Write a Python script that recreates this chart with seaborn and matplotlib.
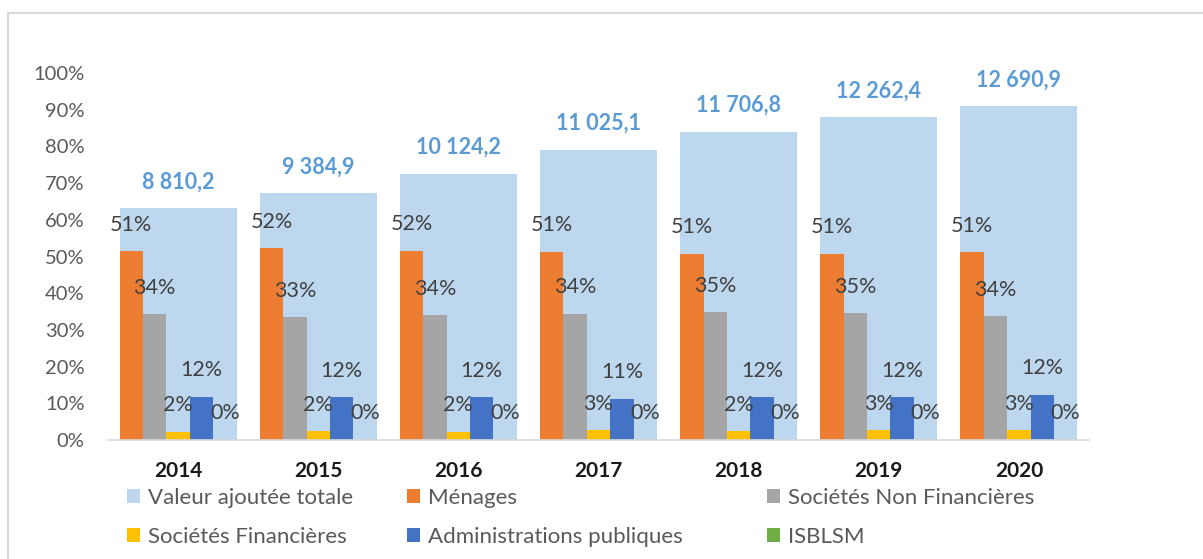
import matplotlib
matplotlib.use("Agg")
import matplotlib.pyplot as plt
from matplotlib.lines import Line2D
from matplotlib.patches import Patch
from matplotlib.ticker import PercentFormatter
import numpy as np
import pandas as pd
import seaborn as sns

# data
years = ["2014", "2015", "2016", "2017", "2018", "2019", "2020"]
valeur_ajoutee = [8810.2, 9384.9, 10124.2, 11025.1, 11706.8, 12262.4, 12690.9]
menages = [0.514, 0.522, 0.516, 0.513, 0.508, 0.508, 0.512]
societes_non_fin = [0.342, 0.334, 0.340, 0.344, 0.348, 0.346, 0.337]
societes_fin = [0.023, 0.024, 0.023, 0.026, 0.024, 0.027, 0.026]
administrations = [0.118, 0.116, 0.117, 0.113, 0.117, 0.116, 0.123]
isblsm = [0.001, 0.001, 0.001, 0.001, 0.001, 0.001, 0.001]

sectors = ["Ménages", "Sociétés Non Financières", "Sociétés Financières",
           "Administrations publiques", "ISBLSM"]
palette = {
    "Ménages": "#ED7D31",
    "Sociétés Non Financières": "#A5A5A5",
    "Sociétés Financières": "#FFC000",
    "Administrations publiques": "#4472C4",
    "ISBLSM": "#70AD47",
}
total_color = "#BDD7EE"
total_label = "Valeur ajoutée totale"

sns.set_theme(style="white")
plt.rcParams["font.family"] = ["Lato", "DejaVu Sans"]

wide = pd.DataFrame({
    "year": years,
    "Ménages": menages,
    "Sociétés Non Financières": societes_non_fin,
    "Sociétés Financières": societes_fin,
    "Administrations publiques": administrations,
    "ISBLSM": isblsm,
})
shares = wide.melt(id_vars="year", var_name="sector", value_name="share")
totals = pd.DataFrame({"year": years, "value": valeur_ajoutee})

W, H = 1203, 559
fig = plt.figure(figsize=(W / 100, H / 100), dpi=100)
ax = fig.add_axes([108 / W, 1 - 440 / H, (1089 - 108) / W, 367 / H])
ax2 = ax.twinx()

# total value added, on a hidden secondary scale
sns.barplot(data=totals, x="year", y="value", color=total_color, saturation=1,
            width=0.835, linewidth=0, ax=ax2)
ax2.set_ylim(0, 13950)
ax2.set_yticks([])
ax2.set_ylabel("")
for bar, v in zip(ax2.patches, valeur_ajoutee):
    txt = f"{v:,.1f}".replace(",", " ").replace(".", ",")
    ax2.annotate(txt, (bar.get_x() + bar.get_width() / 2, bar.get_height()),
                 xytext=(0, 19), textcoords="offset points", ha="center",
                 va="center", fontsize=15.5, fontweight="bold", color="#5B9BD5")

# shares by institutional sector
sns.barplot(data=shares, x="year", y="share", hue="sector", hue_order=sectors,
            palette=palette, saturation=1, width=0.835, gap=0, linewidth=0,
            legend=False, ax=ax)
ax.set_zorder(ax2.get_zorder() + 1)
ax.patch.set_visible(False)
ax.set_ylim(0, 1)
ax.set_xlim(-0.5, 6.5)
ax.set_yticks(np.arange(0, 1.01, 0.1))
ax.yaxis.set_major_formatter(PercentFormatter(1.0, decimals=0))
ax.set_xlabel("")
ax.set_ylabel("")

for container in ax.containers:
    for bar in container:
        h = bar.get_height()
        ax.annotate(f"{h * 100:.0f}%", (bar.get_x() + bar.get_width() / 2, h),
                    xytext=(0, 19), textcoords="offset points", ha="center",
                    va="center", fontsize=15.5, color="#404040")

for a in (ax, ax2):
    for s in a.spines.values():
        s.set_visible(False)
ax.spines["bottom"].set_visible(True)
ax.spines["bottom"].set_color("#D9D9D9")
ax.spines["bottom"].set_linewidth(1.2)
ax.tick_params(axis="y", length=0, pad=17, labelsize=14.5, labelcolor="#595959")
ax.tick_params(axis="x", length=0, pad=15, labelsize=15, labelcolor="#1a1a1a")
for lbl in ax.get_xticklabels():
    lbl.set_fontweight("bold")
ax2.tick_params(axis="y", length=0)

# legend: three columns placed like the reference, two entries each
names = [total_label] + sectors
cols = [total_color] + [palette[s] for s in sectors]
handles = [Patch(facecolor=c, edgecolor="none") for c in cols]
columns = [(127, [0, 3]), (407, [1, 4]), (767, [2, 5])]
for x0, idx in columns:
    fig.legend([handles[i] for i in idx], [names[i] for i in idx], ncol=1,
               loc="upper left", bbox_to_anchor=(x0 / W, 1 - 488 / H),
               frameon=False, fontsize=16, labelcolor="#595959",
               handlelength=0.6, handleheight=0.6, handletextpad=0.35,
               labelspacing=0.85, borderaxespad=0, borderpad=0)

# chart border (left and top)
fig.add_artist(Line2D([7.5 / W, 7.5 / W], [0, 1 - 13 / H], transform=fig.transFigure,
                      color="#D9D9D9", lw=1.5))
fig.add_artist(Line2D([7.5 / W, 1], [1 - 13 / H, 1 - 13 / H], transform=fig.transFigure,
                      color="#D9D9D9", lw=1.5))

fig.savefig("out.png", dpi=100)
